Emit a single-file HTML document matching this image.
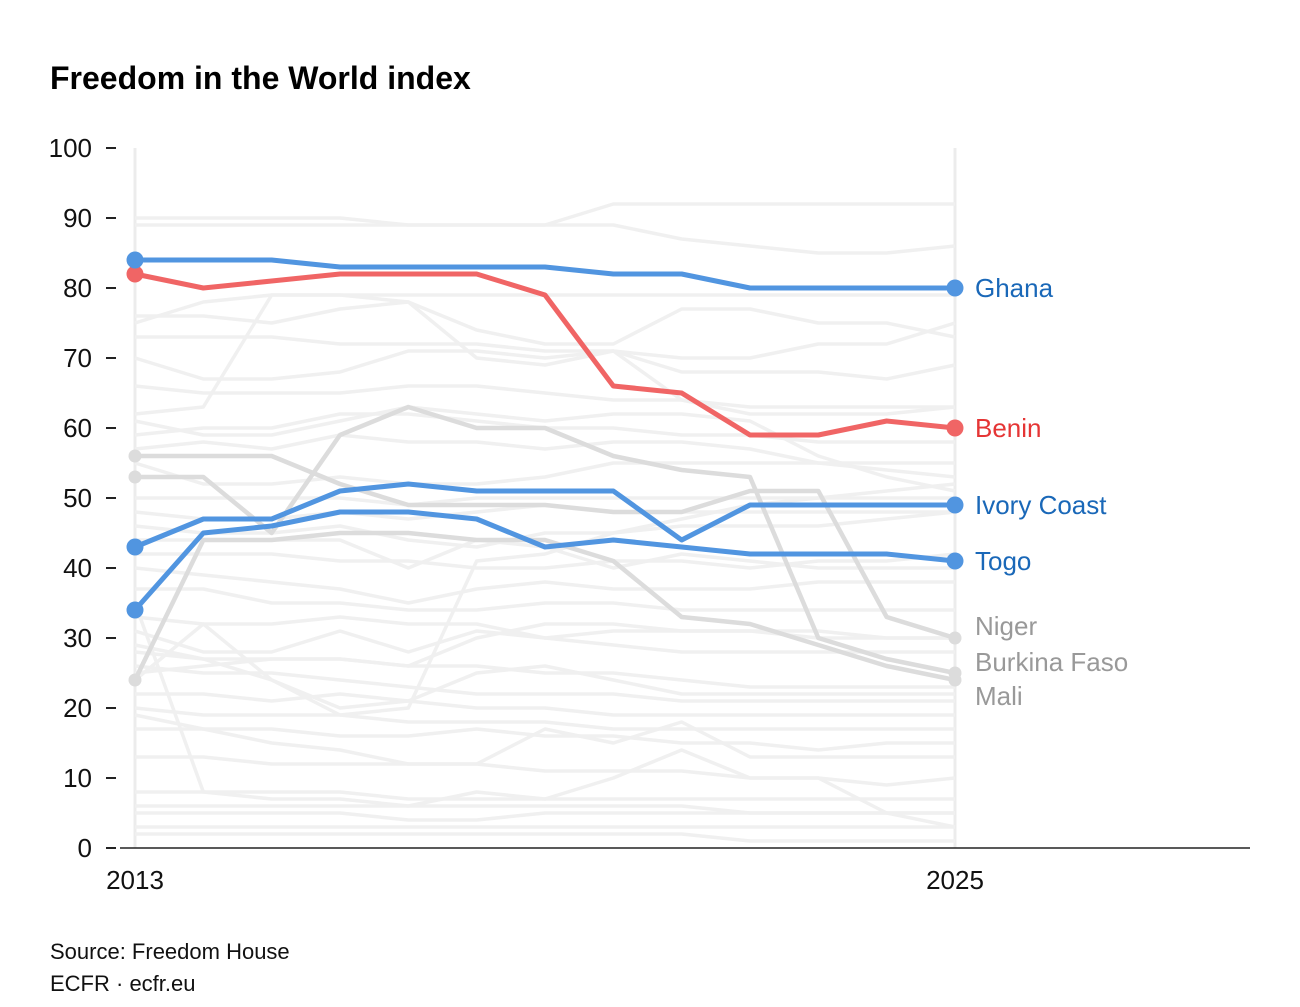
<!DOCTYPE html>
<html><head><meta charset="utf-8">
<style>
body{margin:0;background:#fff;width:1300px;height:1002px;overflow:hidden;font-family:"Liberation Sans",sans-serif;}
svg text{font-family:"Liberation Sans",sans-serif;}
</style></head>
<body>
<svg id="chart" width="1300" height="1002" viewBox="0 0 1300 1002">
<text x="50" y="89" font-size="32" font-weight="bold" fill="#000">Freedom in the World index</text>
<g id="bg"></g>
<g id="axes"></g>
<g id="fg"></g>
<text x="50" y="959" font-size="22" fill="#111">Source: Freedom House</text>
<text x="50" y="991" font-size="22" fill="#111">ECFR · ecfr.eu</text>
</svg>
<script>
const years=[2013,2014,2015,2016,2017,2018,2019,2020,2021,2022,2023,2024,2025];
const yTicks=[0,10,20,30,40,50,60,70,80,90,100];
const xTickLabels=[2013,2025];
const ghana=[84,84,84,83,83,83,83,82,82,80,80,80,80];
const benin=[82,80,81,82,82,82,79,66,65,59,59,61,60];
const ivoryCoast=[43,47,47,51,52,51,51,51,44,49,49,49,49];
const togo=[34,45,46,48,48,47,43,44,43,42,42,42,41];
const niger=[56,56,56,52,49,49,49,48,48,51,51,33,30];
const burkina=[53,53,45,59,63,60,60,56,54,53,30,27,25];
const mali=[24,44,44,45,45,44,44,41,33,32,29,26,24];
const others=[
[90,90,90,90,89,89,89,92,92,92,92,92,92],
[89,89,89,89,89,89,89,89,87,86,85,85,86],
[75,78,79,79,79,79,79,79,79,79,79,79,79],
[76,76,75,77,78,74,72,72,77,77,75,75,73],
[70,67,67,68,71,71,70,71,68,68,68,67,69],
[62,63,79,79,78,70,69,71,64,62,62,62,63],
[66,65,65,65,66,66,65,64,64,63,63,63,63],
[61,59,59,61,63,62,61,62,62,61,56,53,51],
[57,58,57,59,58,58,57,58,58,57,55,54,53],
[55,52,52,53,52,52,53,55,55,55,55,55,55],
[48,47,47,48,47,48,49,48,48,48,48,48,48],
[46,45,45,46,44,43,45,45,46,46,46,47,48],
[42,42,42,41,41,40,40,41,41,40,41,41,42],
[40,39,38,37,35,37,38,37,37,37,38,38,38],
[37,37,35,35,34,34,35,35,34,34,34,34,34],
[33,32,32,33,32,32,30,31,31,31,31,30,30],
[31,28,28,31,28,31,30,29,28,28,28,28,28],
[28,27,27,27,26,26,25,25,24,23,23,23,23],
[26,25,25,24,23,22,22,22,21,21,21,21,21],
[22,22,21,22,21,20,20,19,19,19,19,19,19],
[20,19,19,19,18,18,18,17,17,17,17,17,17],
[19,17,15,14,12,12,17,15,18,13,13,13,13],
[17,17,17,16,16,17,16,16,15,15,14,15,15],
[13,13,12,12,12,12,11,11,11,10,10,9,10],
[8,8,8,8,7,7,7,7,7,7,7,7,7],
[6,6,6,6,6,6,6,6,6,5,5,5,5],
[5,5,5,5,4,4,5,5,5,5,5,5,5],
[3,3,3,3,3,3,3,3,3,3,3,3,3],
[2,2,2,2,2,2,2,2,2,1,1,1,1],
[35,8,7,7,6,8,7,10,14,10,10,5,3],
[24,32,24,19,20,41,42,45,47,49,50,51,52],
[29,27,24,20,21,25,26,24,22,22,22,22,22],
[25,26,27,27,26,30,32,32,31,31,30,30,30],
[44,44,44,44,40,44,43,40,42,41,40,40,40],
[50,50,50,50,49,50,50,50,50,50,50,50,50],
[59,60,60,62,62,61,60,60,59,59,58,58,58],
[73,73,73,72,72,72,71,71,70,70,72,72,75]
];
const svg=document.getElementById('chart');
const NS="http://www.w3.org/2000/svg";
const x0=135,x1=955,yB=848,yT=148;
function xs(i){return x0+(x1-x0)*(years[i]-years[0])/(years[years.length-1]-years[0]);}
function ys(v){return yB-(yB-yT)*v/100;}
function mk(tag,attrs,parent){const e=document.createElementNS(NS,tag);for(const k in attrs)e.setAttribute(k,attrs[k]);parent.appendChild(e);return e;}
function pts(arr){return arr.map((v,i)=>xs(i)+','+ys(v)).join(' ');}
const axes=document.getElementById('axes'),bg=document.getElementById('bg'),fg=document.getElementById('fg');
[0,years.length-1].forEach(i=>{
 const l=mk('line',{x1:xs(i),x2:xs(i),y1:yT,y2:yB,stroke:'#ececec','stroke-width':3},bg);
 
 
});
others.forEach(a=>{
 const p=mk('polyline',{points:pts(a),fill:'none',stroke:'#f0f0f0','stroke-width':3.5,'stroke-linejoin':'round'},bg);
 
 
});
yTicks.forEach(v=>{
 const t=mk('line',{x1:106,x2:116,y1:ys(v),y2:ys(v),stroke:'#222','stroke-width':2},axes);
 
 
 const tx=mk('text',{x:92,y:ys(v)+9,'font-size':26,'text-anchor':'end',fill:'#111'},axes);
 tx.textContent=v;
 
 
});
const ax=mk('line',{x1:120,x2:1250,y1:yB,y2:yB,stroke:'#222','stroke-width':1.5},axes);


xTickLabels.forEach(yr=>{
 const i=years.indexOf(yr);
 const t=mk('text',{x:xs(i),y:889,'font-size':26,'text-anchor':'middle',fill:'#111'},axes);
 t.textContent=yr;
 
 
});
const series=[
 {d:niger,c:'#dcdcdc',lc:'#999',w:4.5},
 {d:burkina,c:'#dcdcdc',lc:'#999',w:4.5},
 {d:mali,c:'#dcdcdc',lc:'#999',w:4.5},
 {d:togo,c:'#5195e0',lc:'#1a68b8',w:5},
 {d:ivoryCoast,c:'#5195e0',lc:'#1a68b8',w:5},
 {d:benin,c:'#f06565',lc:'#e53535',w:5},
 {d:ghana,c:'#5195e0',lc:'#1a68b8',w:5}
];
const names=["Niger","Burkina Faso","Mali","Togo","Ivory Coast","Benin","Ghana"];
const labelY={Niger:626,"Burkina Faso":662,Mali:696};
series.forEach((s,k)=>{
 const p=mk('polyline',{points:pts(s.d),fill:'none',stroke:s.c,'stroke-width':s.w,'stroke-linejoin':'round'},fg);
 
 
 [0,s.d.length-1].forEach(i=>{
  const c=mk('circle',{cx:xs(i),cy:ys(s.d[i]),r:s.c==='#dcdcdc'?6.5:8.5,fill:s.c},fg);
  
  
 });
 const ly=(labelY[names[k]]!==undefined?labelY[names[k]]:ys(s.d[12]))+9;
 const t=mk('text',{x:975,y:ly,'font-size':26,fill:s.lc},fg);
 t.textContent=names[k];
 
 
});
</script>
</body></html>
